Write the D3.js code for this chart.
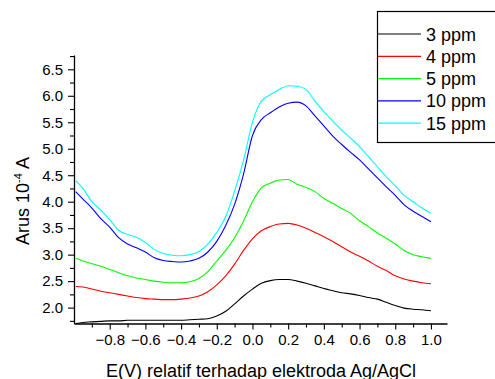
<!DOCTYPE html>
<html>
<head>
<meta charset="utf-8">
<script src="https://cdn.jsdelivr.net/npm/d3@7"></script>
<style>
  html, body { margin: 0; padding: 0; background: #fff; }
  svg { display: block; font-family: Arial, "Liberation Sans", sans-serif; }
</style>
</head>
<body>
<div id="chart"></div>
<script>
// potential (V) sampled every 0.05, shared by all series
const potentials = [-0.99, -0.95, -0.90, -0.85, -0.80, -0.75, -0.70, -0.65, -0.60, -0.55,
  -0.50, -0.45, -0.40, -0.35, -0.30, -0.25, -0.20, -0.15, -0.10, -0.05,
  0.00, 0.05, 0.10, 0.15, 0.20, 0.25, 0.30, 0.35, 0.40, 0.45,
  0.50, 0.55, 0.60, 0.65, 0.70, 0.75, 0.80, 0.85, 0.90, 0.95, 1.00];

const seriesNames = ["3 ppm", "4 ppm", "5 ppm", "10 ppm", "15 ppm"];

// current, x 10^-4 A
const ppm3 = [1.70, 1.72, 1.73, 1.74, 1.75, 1.75, 1.76, 1.76, 1.76, 1.76,
  1.76, 1.76, 1.76, 1.77, 1.78, 1.79, 1.84, 1.93, 2.07, 2.22,
  2.35, 2.46, 2.51, 2.53, 2.53, 2.50, 2.46, 2.41, 2.36, 2.32,
  2.28, 2.26, 2.23, 2.19, 2.16, 2.10, 2.04, 1.99, 1.97, 1.96, 1.94];
const ppm4 = [2.40, 2.39, 2.35, 2.31, 2.28, 2.25, 2.22, 2.19, 2.17, 2.16,
  2.15, 2.15, 2.16, 2.18, 2.22, 2.30, 2.43, 2.60, 2.82, 3.08,
  3.30, 3.45, 3.53, 3.58, 3.59, 3.56, 3.50, 3.42, 3.34, 3.25,
  3.15, 3.05, 2.97, 2.88, 2.78, 2.70, 2.60, 2.54, 2.50, 2.47, 2.45];
const ppm5 = [2.93, 2.88, 2.83, 2.78, 2.72, 2.66, 2.60, 2.56, 2.53, 2.50,
  2.48, 2.47, 2.47, 2.49, 2.55, 2.68, 2.88, 3.08, 3.32, 3.63,
  4.00, 4.26, 4.35, 4.41, 4.42, 4.33, 4.27, 4.19, 4.06, 3.97,
  3.87, 3.78, 3.64, 3.53, 3.41, 3.31, 3.20, 3.08, 3.00, 2.96, 2.93];
const ppm10 = [4.19, 4.05, 3.88, 3.68, 3.52, 3.32, 3.20, 3.13, 3.05, 2.94,
  2.89, 2.87, 2.86, 2.88, 2.93, 3.05, 3.25, 3.55, 3.95, 4.52,
  5.25, 5.55, 5.68, 5.79, 5.86, 5.88, 5.81, 5.62, 5.43, 5.24,
  5.08, 4.93, 4.79, 4.62, 4.45, 4.28, 4.12, 3.94, 3.82, 3.72, 3.62];
const ppm15 = [4.40, 4.25, 4.00, 3.84, 3.66, 3.46, 3.38, 3.33, 3.23, 3.10,
  3.02, 2.99, 2.98, 3.00, 3.06, 3.20, 3.42, 3.72, 4.20, 4.78,
  5.50, 5.90, 6.02, 6.12, 6.19, 6.18, 6.12, 5.90, 5.70, 5.52,
  5.35, 5.20, 5.04, 4.85, 4.66, 4.47, 4.30, 4.12, 4.00, 3.88, 3.78];

const seriesValues = [ppm3, ppm4, ppm5, ppm10, ppm15];

const xMajorTicks = [-0.8, -0.6, -0.4, -0.2, 0.0, 0.2, 0.4, 0.6, 0.8, 1.0];
const xMinorTicks = [-0.9, -0.7, -0.5, -0.3, -0.1, 0.1, 0.3, 0.5, 0.7, 0.9];
const yMajorTicks = [2.0, 2.5, 3.0, 3.5, 4.0, 4.5, 5.0, 5.5, 6.0, 6.5];
const yMinorTicks = [1.75, 2.25, 2.75, 3.25, 3.75, 4.25, 4.75, 5.25, 5.75, 6.25, 6.75];

const colors = ["#000000", "#ff0000", "#00ff00", "#0000ff", "#00ffff"];

const W = 495, H = 379;
const M = { left: 74, right: 447, top: 55, bottom: 323.5 };

const svg = d3.select('#chart').append('svg')
  .attr('width', W)
  .attr('height', H);

const x = d3.scaleLinear().domain([-1.0, 1.09]).range([M.left, M.right]);
const y = d3.scaleLinear().domain([1.7, 6.77]).range([M.bottom, M.top]);

// curves
const line = d3.line()
  .x((d, i) => x(potentials[i]))
  .y(d => y(d))
  .curve(d3.curveMonotoneX);

svg.append('g')
  .selectAll('path')
  .data(seriesValues)
  .join('path')
  .attr('fill', 'none')
  .attr('stroke', (d, i) => colors[i])
  .attr('stroke-width', 1.1)
  .attr('d', line);

// bottom axis
const gx = svg.append('g').attr('transform', `translate(0,${M.bottom})`);
gx.call(d3.axisBottom(x).tickValues(xMajorTicks).tickSize(6).tickSizeOuter(0)
  .tickFormat(d3.format('.1f')));
gx.append('g').call(d3.axisBottom(x).tickValues(xMinorTicks).tickSize(4).tickSizeOuter(0).tickFormat(''))
  .select('.domain').remove();

// left axis
const gy = svg.append('g').attr('transform', `translate(${M.left},0)`);
gy.call(d3.axisLeft(y).tickValues(yMajorTicks).tickSize(6).tickSizeOuter(0)
  .tickFormat(d3.format('.1f')));
gy.append('g').call(d3.axisLeft(y).tickValues(yMinorTicks).tickSize(4).tickSizeOuter(0).tickFormat(''))
  .select('.domain').remove();

svg.selectAll('.domain').attr('stroke', '#000').attr('stroke-width', 1.3);
svg.selectAll('.tick line').attr('stroke', '#000').attr('stroke-width', 1.1);
svg.selectAll('.tick text')
  .attr('fill', '#000')
  .attr('font-size', '15px')
  .attr('font-family', 'Arial, "Liberation Sans", sans-serif');
gx.selectAll('.tick text').attr('y', 11);
gy.selectAll('.tick text').attr('x', -11);

// axis titles
svg.append('text')
  .attr('x', 261)
  .attr('y', 376.5)
  .attr('text-anchor', 'middle')
  .attr('font-size', '18px')
  .text('E(V) relatif terhadap elektroda Ag/AgCl');

const yt = svg.append('text')
  .attr('transform', 'translate(28.5,201) rotate(-90)')
  .attr('text-anchor', 'middle')
  .attr('font-size', '18px');
yt.append('tspan').text('Arus 10');
yt.append('tspan').attr('dy', -7).attr('font-size', '11px').text('-4');
yt.append('tspan').attr('dy', 7).text(' A');

// legend
const legend = svg.append('g');
legend.append('rect')
  .attr('x', 377.5).attr('y', 11.5)
  .attr('width', 130).attr('height', 131)
  .attr('fill', '#fff')
  .attr('stroke', '#000')
  .attr('stroke-width', 1.2);

const rows = legend.selectAll('g.row')
  .data(seriesNames)
  .join('g')
  .attr('class', 'row')
  .attr('transform', (d, i) => `translate(0,${34 + i * 22.3})`);

rows.append('line')
  .attr('x1', 378).attr('x2', 421)
  .attr('y1', 0).attr('y2', 0)
  .attr('stroke', (d, i) => colors[i])
  .attr('stroke-width', 1.2);

rows.append('text')
  .attr('x', 426)
  .attr('y', 6.5)
  .attr('font-size', '18px')
  .text(d => d);
</script>
</body>
</html>
